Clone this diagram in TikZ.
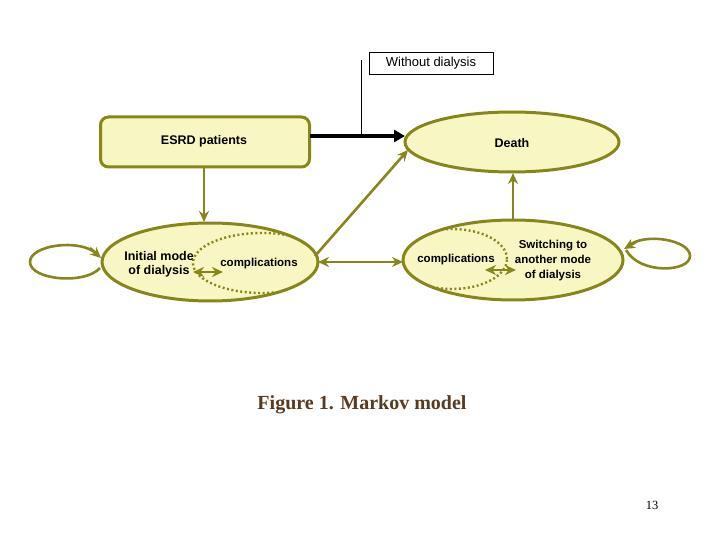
\documentclass[tikz,border=0pt]{standalone}
\usepackage{fontspec}
\setmainfont{Liberation Serif}
\newfontfamily\arialf{Liberation Sans}
\usetikzlibrary{arrows.meta}
\definecolor{olv}{HTML}{86861A}
\definecolor{fillY}{HTML}{F8F6C2}
\definecolor{capc}{HTML}{5A3A1E}
\begin{document}
\begin{tikzpicture}[x=1pt,y=-1pt,
  st/.style={draw=olv,line width=3pt,fill=fillY},
  lab/.style={font=\arialf\bfseries\fontsize{12.5}{14}\selectfont,align=center,inner sep=0pt},
  con/.style={draw=olv,line width=2.6pt,-{Stealth[length=11pt,width=10pt]}},
  dbl/.style={draw=olv,line width=2.6pt,{Stealth[length=11pt,width=10pt]}-{Stealth[length=11pt,width=10pt]}},
  dot/.style={draw=olv,line width=2.4pt,dash pattern=on 2pt off 2.5pt}]
\useasboundingbox (0,0) rectangle (720,540);
% ESRD
\node[st,rounded corners=8pt,minimum width=209pt,minimum height=50pt,inner sep=0pt] (esrd) at (205,142) {};
\node[lab] (esrdl) at (204,141) {ESRD patients};
% Death
\draw[st] (512,142) ellipse (107pt and 30pt);
\coordinate (deathB) at (513,173);
\coordinate (deathLB) at (408,150);
\node[lab] (deathl) at (512,143) {Death};
% initial
\draw[st] (210,262) ellipse (108pt and 39pt);
\begin{scope}
\clip (210,262) ellipse (108pt and 39pt);
\draw[dot] (262,263) ellipse (69pt and 30pt);
\end{scope}
\node[lab] (init) at (159,264) {Initial mode\\of dialysis};
\node[lab,font=\arialf\bfseries\fontsize{11.5}{13}\selectfont] (comp1) at (259,264) {complications};
% right
\draw[st] (513,260) ellipse (110pt and 40pt);
\begin{scope}
\clip (513,260) ellipse (110pt and 40pt);
\draw[dot] (452,259) ellipse (55pt and 30pt);
\end{scope}
\node[lab,font=\arialf\bfseries\fontsize{11.5}{13}\selectfont] (comp2) at (456,260) {complications};
\node[lab,font=\arialf\bfseries\fontsize{11.5}{15}\selectfont] (sw) at (553,261) {Switching to\\another mode\\of dialysis};
% loops
\draw[draw=olv,line width=2.6pt] (97,254) .. controls (80,238) and (30,245) .. (30,262) .. controls (30,280) and (85,285) .. (100,268);
\draw[con] (90,248) -- (101,258);
\draw[draw=olv,line width=2.6pt] (628,246) .. controls (645,232) and (690,240) .. (690,256) .. controls (690,272) and (640,275) .. (626,250);
\draw[con] (636,242) -- (624,249);
% arrows
\coordinate (esB) at (204,168);
\coordinate (inT) at (204,222);
\draw[con] (esB) -- (inT);
\coordinate (rT) at (513,219);
\draw[con] (rT) -- (deathB);
\coordinate (inR) at (318,262);
\coordinate (rL) at (403,262);
\draw[dbl] (inR) -- (rL);
\coordinate (inR2) at (315,256);
\draw[con] (inR2) -- (deathLB);
\coordinate (a1) at (193,272); \coordinate (a2) at (223,272);
\draw[dbl] (a1) -- (a2);
\coordinate (b1) at (485,270); \coordinate (b2) at (516,270);
\draw[dbl] (b1) -- (b2);
% black
\coordinate (esR) at (310,136);
\draw[line width=4.5pt,-{Triangle[length=11pt,width=12pt]}] (esR) -- (405,136);
\coordinate (vt) at (361,60); \coordinate (vb) at (361,134);
\draw[line width=0.8pt] (vt) -- (vb);
\node[draw,line width=0.9pt,minimum width=124pt,minimum height=22pt,inner sep=0pt,font=\arialf\fontsize{13}{15}\selectfont] (wd) at (431,63) {Without dialysis};
\node[text=capc,font=\bfseries\fontsize{20}{24}\selectfont] (cap) at (362,405) {Figure 1. Markov model};
\node[font=\fontsize{12.5}{14}\selectfont] (pg) at (652,505) {13};
\end{tikzpicture}
\end{document}
